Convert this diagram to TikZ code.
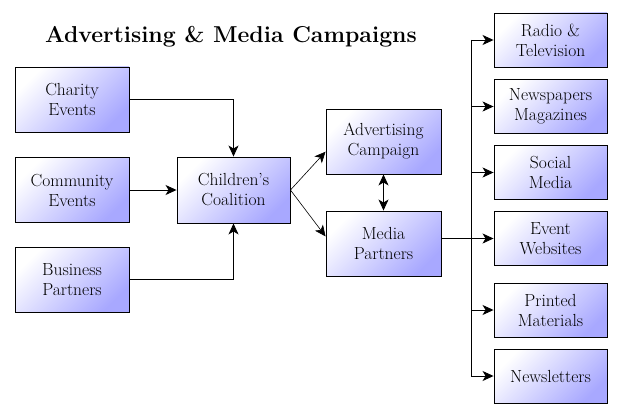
\documentclass[tikz,border=0pt]{standalone}
\usetikzlibrary{arrows.meta}
\definecolor{boxink}{HTML}{000000}
\definecolor{boxlight}{HTML}{FFFFFF}
\definecolor{boxblue}{HTML}{A8A8FF}

\begin{document}
\begin{tikzpicture}[
  x=1pt, y=-1pt,
  line width=0.9pt, line join=miter,
  >={Stealth[length=11pt, width=10pt, inset=3pt]},
  box/.style  = {draw=boxink, line width=0.9pt,
                 top color=boxlight, bottom color=boxblue, shading angle=45,
                 minimum width=114pt, minimum height=65pt, inner sep=1pt,
                 align=center, anchor=center, font=\fontsize{17.5}{20}\selectfont},
  rbox/.style = {box, minimum width=113pt, minimum height=54pt},
  ttl/.style  = {font=\fontsize{23}{27}\selectfont\bfseries, anchor=center}
]
\useasboundingbox (0,0) rectangle (621,412);

% title
\node[ttl] (title) at (231,37) {Advertising \& Media Campaigns};

% left column
\node[box] (charity)   at (72,99.5)  {Charity\\Events};
\node[box] (community) at (72,190)   {Community\\Events};
\node[box] (business)  at (72,279.5) {Business\\Partners};

% centre
\node[box, minimum width=113pt, minimum height=66pt] (coalition) at (233.5,190) {Children's\\Coalition};
\node[box, minimum width=115pt] (campaign) at (383.5,141.5) {Advertising\\Campaign};
\node[box, minimum width=115pt] (partners) at (383.5,243.5) {Media\\Partners};

% right column
\node[rbox] (radio)   at (550.5,40)    {Radio \&\\Television};
\node[rbox] (papers)  at (550.5,106.5) {Newspapers\\Magazines};
\node[rbox] (social)  at (550.5,172.5) {Social\\Media};
\node[rbox] (web)     at (550.5,238.5) {Event\\Websites};
\node[rbox] (printed) at (550.5,310)   {Printed\\Materials};
\node[rbox] (letters) at (550.5,376)   {Newsletters};

% sources -> coalition
\draw[->] (charity.east) -| (coalition.north);
\draw[->] (community.east) -- (coalition.west);
\draw[->] (business.east) -| (coalition.south);

% coalition -> campaign / partners
\draw[->, line width=0.6pt] (coalition.east) -- (campaign.190);
\draw[->, line width=0.6pt] (coalition.east) -- (partners.173);
\draw[<->] (campaign.south) -- (partners.north);

% bus to media outlets
\coordinate (bus) at (471,240);
\draw (bus |- radio.west) -- (bus |- letters.west);
\draw[->] (partners.east |- web.west) -- (web.west);
\foreach \o in {radio, papers, social, printed, letters}
  \draw[->] (bus |- \o.west) -- (\o.west);

\end{tikzpicture}
\end{document}
